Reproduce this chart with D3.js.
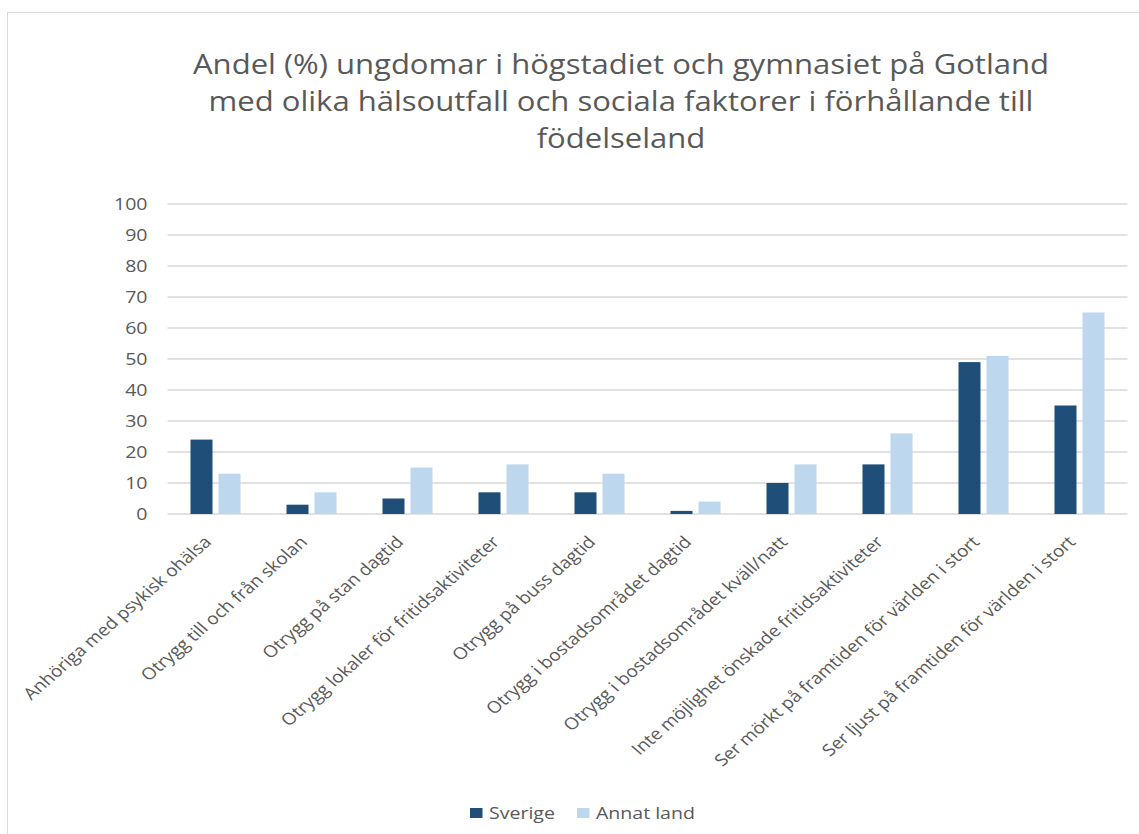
<!DOCTYPE html>
<html>
<head>
<meta charset="utf-8">
<script src="https://cdn.jsdelivr.net/npm/d3@7"></script>
<style>
	body { margin: 0; background: #fff; }
	svg text { font-family: "Open Sans", sans-serif; fill: #595959; }
</style>
</head>
<body>
<script>
	var categories = [
		"Anhöriga med psykisk ohälsa",
		"Otrygg till och från skolan",
		"Otrygg på stan dagtid",
		"Otrygg lokaler för fritidsaktiviteter",
		"Otrygg på buss dagtid",
		"Otrygg i bostadsområdet dagtid",
		"Otrygg i bostadsområdet kväll/natt",
		"Inte möjlighet önskade fritidsaktiviteter",
		"Ser mörkt på framtiden för världen i stort",
		"Ser ljust på framtiden för världen i stort"
	];
	var sverige = [24, 3, 5, 7, 7, 1, 10, 16, 49, 35];
	var annatLand = [13, 7, 15, 16, 13, 4, 16, 26, 51, 65];
	var seriesNames = ["Sverige", "Annat land"];
	var yTicks = [0, 10, 20, 30, 40, 50, 60, 70, 80, 90, 100];
	var titleLines = [
		"Andel (%) ungdomar i högstadiet och gymnasiet på Gotland",
		"med olika hälsoutfall och sociala faktorer i förhållande till",
		"födelseland"
	];

	var colors = ["#1f4e79", "#bdd7ee"];
	var width = 1139, height = 834;
	var plotLeft = 167.5, plotRight = 1127.5, plotTop = 204, plotBottom = 514;
	var sx = 1.15; // the original text is drawn a bit wide

	var svg = d3.select("body").append("svg")
		.attr("width", width)
		.attr("height", height);

	// chart frame (right and bottom edges fall outside the picture)
	svg.append("rect")
		.attr("x", 7.5).attr("y", 12.5)
		.attr("width", 1160).attr("height", 840)
		.attr("fill", "none")
		.attr("stroke", "#d9d9d9");

	svg.selectAll(".title")
		.data(titleLines)
		.enter()
		.append("text")
		.attr("class", "title")
		.attr("text-anchor", "middle")
		.attr("transform", function(d, i) {
			return "translate(621," + (74 + i * 37) + ") scale(" + sx + ",1)";
		})
		.style("font-size", "27px")
		.text(function(d) { return d; });

	var x = d3.scaleBand().domain(categories).range([plotLeft, plotRight]);
	var y = d3.scaleLinear().domain([0, 100]).range([plotBottom, plotTop]);

	var grid = svg.append("g");
	grid.selectAll("line")
		.data(yTicks)
		.enter()
		.append("line")
		.attr("x1", plotLeft).attr("x2", plotRight)
		.attr("y1", function(d) { return y(d); })
		.attr("y2", function(d) { return y(d); })
		.attr("stroke", "#d9d9d9")
		.attr("stroke-width", 1.3);

	svg.selectAll(".ytick")
		.data(yTicks)
		.enter()
		.append("text")
		.attr("class", "ytick")
		.attr("text-anchor", "end")
		.attr("dy", "0.35em")
		.attr("transform", function(d) {
			return "translate(" + (plotLeft - 20) + "," + y(d) + ") scale(" + sx + ",1)";
		})
		.style("font-size", "17px")
		.text(function(d) { return d; });

	var barW = 22, gap = 6;
	var rows = categories.map(function(c, i) { return [sverige[i], annatLand[i]]; });

	var groups = svg.selectAll(".grp")
		.data(rows)
		.enter()
		.append("g")
		.attr("transform", function(d, i) {
			return "translate(" + (x(categories[i]) + x.bandwidth() / 2) + ",0)";
		});

	groups.selectAll("rect")
		.data(function(d) { return d; })
		.enter()
		.append("rect")
		.attr("x", function(d, j) { return j === 0 ? -barW - gap / 2 : gap / 2; })
		.attr("y", function(d) { return y(d); })
		.attr("width", barW)
		.attr("height", function(d) { return y(0) - y(d); })
		.attr("fill", function(d, j) { return colors[j]; });

	// category labels, rotated
	svg.selectAll(".xlab")
		.data(categories)
		.enter()
		.append("text")
		.attr("class", "xlab")
		.attr("text-anchor", "end")
		.attr("transform", function(d) {
			return "translate(" + (x(d) + x.bandwidth() / 2 - 3) + ",543) scale(" + sx + ",1) rotate(-45)";
		})
		.style("font-size", "16.5px")
		.text(function(d) { return d; });

	// legend
	var legend = svg.selectAll(".leg")
		.data(seriesNames)
		.enter()
		.append("g")
		.attr("transform", function(d, i) { return "translate(" + (470 + i * 107) + ",808)"; });
	legend.append("rect")
		.attr("width", 12.5).attr("height", 10)
		.attr("fill", function(d, i) { return colors[i]; });
	legend.append("text")
		.attr("transform", "translate(19,11) scale(" + sx + ",1)")
		.style("font-size", "17px")
		.text(function(d) { return d; });
</script>
</body>
</html>
